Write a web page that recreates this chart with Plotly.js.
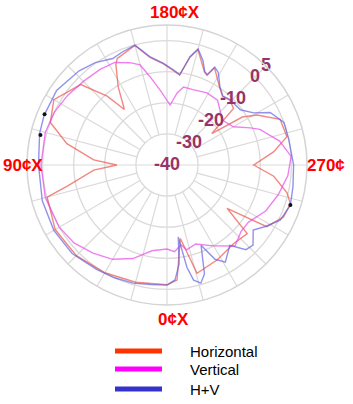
<!DOCTYPE html>
<html><head><meta charset="utf-8">
<script src="https://cdn.plot.ly/plotly-3.0.1.min.js"></script>
<style>html,body{margin:0;padding:0;background:#fff}#chart{width:353px;height:404px}</style>
</head><body><div id="chart"></div>
<script>
// ---- data (angle in degrees, level in dB) ----
const seriesNames = ['Horizontal', 'Vertical', 'H+V'];
const radialTicks = [-40, -30, -20, -10, 0, 5];
const angleLabelVals = [0, 90, 180, 270];
const angleLabelText = ['0\u00a2X', '90\u00a2X', '180\u00a2X', '270\u00a2'];

const thetaH = [0,15,30,45,60,75,78,86,90,94,102,110,120,133,139,142.5,148,153,155,165,171,178,184,188,192,195,202,204,206,214,219,224,229.6,234.9,237.5,241,248,256.7,263,270,276,283,287.5,294,301.7,305.8,310.5,319.6,332,344.5,349.7,355,360];
const rH     = [-1.5,-1,0,1.2,1.5,-0.1,-7.1,-16.4,-23.9,-16.4,-7.1,-0.1,2,-2.1,-10.7,-17.5,-10.4,-3.8,-2.2,-0.2,-5,-7.5,-9.6,-10.8,-4.6,-1.6,-7.8,-8.4,-5.2,-9.8,-11.6,-11,-11.9,-22.4,-11.3,-6.9,-0.8,-0.4,-5.5,-12.1,-5.5,-0.4,1.6,1.0,-2.3,-16.2,-6.1,-6.9,-5.5,-3.9,-16,-2.9,-1.5];

const thetaV = [0,10,20,30,40,50,60,75,90,105,115,125,135,145,153,160,165,169,175,183,188,192,199,209,218,231,240,246,249,258,266,275,285,295,305,312,320,330,340,347,350,355,360];
const rV     = [-13,-12,-8,-5,-3,-1,0,0.5,0.5,0.5,0,-1,-2,-2.5,-3,-5,-6.7,-11,-16,-20.7,-16.6,-14.4,-14.4,-13.5,-13.6,-17.1,-15.4,-10.7,-8,-3,0,-1,-3,-5,-8,-8,-6,-10,-13,-12,-14,-12,-13];

const thetaHV = [0,8,16,25,34,47,60,74,90,104,112,124,137,145,153,158,165,171,178,184,188,192,195,199,202,204,206,209,214,219,224,233,239,243,250,258,270,280,288,296,302,307,313,317,322,329,333,337,341,344,347,349,351.1,353,356,360];
const rHV     = [-1.4,-1.2,-0.5,0,0.5,1.7,2.0,1.7,1.3,2.2,2.6,2.8,1.4,0.2,-1.6,-1.0,-0.1,-4.7,-7.3,-9.4,-10.7,-4.4,-1.4,-4.5,-7.6,-8.2,-5.0,-6.0,-9.6,-11.5,-10.8,-10.5,-7.5,-2.8,0,0,0.7,1.1,1.7,0.5,-2.7,-5.3,-2.2,-2.8,-7.2,-3.6,-6,-12,-3,-0.5,-2,-6.5,-16.6,-8,-3,-1.4];

const dotTheta = [103.3, 112.5, 288];
const dotR     = [1.8, 2.6, 1.7];

// ---- layout helpers ----
const W = 353, H = 404, M = {l: 27, r: 46, t: 25, b: 99};
const PW = W - M.l - M.r, PH = H - M.t - M.b;
const px = x => (x - M.l) / PW;
const py = y => (H - M.b - y) / PH;

const traceColors = ['rgba(235,80,70,0.68)', 'rgba(232,70,232,0.68)', 'rgba(95,95,228,0.68)'];
const legendColors = ['#ff3300', '#ff00ff', '#3333cc'];
const gridColor = '#dadada';

// spokes (every 15 deg, starting from the -30 ring) drawn through the polar scales
const spokeTheta = [], spokeR = [];
for (let a = 0; a < 360; a += 15) {
  if (a % 90 === 0) continue;
  spokeTheta.push(a, a, null);
  spokeR.push(-30, 5, null);
}

const traces = [
  {type: 'scatterpolar', mode: 'lines', theta: spokeTheta, r: spokeR, connectgaps: false,
   line: {color: gridColor, width: 1.2}, showlegend: false, hoverinfo: 'skip'},
  {type: 'scatterpolar', mode: 'lines', name: seriesNames[0], theta: thetaH, r: rH, line: {color: traceColors[0], width: 1.4}},
  {type: 'scatterpolar', mode: 'lines', name: seriesNames[1], theta: thetaV, r: rV, line: {color: traceColors[1], width: 1.4}},
  {type: 'scatterpolar', mode: 'lines', name: seriesNames[2], theta: thetaHV, r: rHV, line: {color: traceColors[2], width: 1.4}},
  {type: 'scatterpolar', mode: 'markers', theta: dotTheta, r: dotR, marker: {color: '#111', size: 4}, showlegend: false},
  {type: 'scatterpolar', mode: 'text', theta: radialTicks.map(() => 225), r: radialTicks, text: radialTicks.map(String),
   textposition: 'middle center', textfont: {family: 'Liberation Sans, Arial, sans-serif', size: 18, color: '#993366', weight: 'bold'},
   showlegend: false, cliponaxis: false}
];

const annotations = [
  {x: px(175), y: py(13), text: angleLabelText[2]},
  {x: px(23), y: py(165), text: angleLabelText[1]},
  {x: px(326), y: py(165), text: angleLabelText[3]},
  {x: px(173), y: py(319), text: angleLabelText[0]}
].map(a => Object.assign({xref: 'paper', yref: 'paper', showarrow: false, xanchor: 'center', yanchor: 'middle',
  font: {family: 'Liberation Sans, Arial, sans-serif', size: 17, color: '#ff0000', weight: 'bold'}}, a));

const legendY = [351, 369, 389];
const shapes = [];
seriesNames.forEach((n, i) => {
  shapes.push({type: 'line', xref: 'paper', yref: 'paper', x0: px(115), x1: px(162), y0: py(legendY[i]), y1: py(legendY[i]),
    line: {color: legendColors[i], width: 5}});
  annotations.push({xref: 'paper', yref: 'paper', x: px(188), y: py(legendY[i]), text: n, showarrow: false,
    xanchor: 'left', yanchor: 'middle', font: {family: 'Liberation Sans, Arial, sans-serif', size: 15, color: '#000'}});
});

const layout = {
  width: W, height: H, margin: M, showlegend: false,
  paper_bgcolor: '#fff',
  polar: {
    domain: {x: [0, 1], y: [0, 1]},
    bgcolor: '#fff',
    radialaxis: {range: [-40, 5], tickvals: [-30, -20, -10, 0], showticklabels: false, ticks: '', showline: false,
      gridcolor: gridColor, gridwidth: 1.3},
    angularaxis: {rotation: 270, direction: 'clockwise', tickmode: 'array', tickvals: angleLabelVals, showticklabels: false, ticks: '',
      gridcolor: gridColor, gridwidth: 1.2, linecolor: '#d4d4d4', linewidth: 1.5}
  },
  annotations: annotations,
  shapes: shapes
};

Plotly.newPlot('chart', traces, layout, {displayModeBar: false, staticPlot: true});
</script>
</body></html>
